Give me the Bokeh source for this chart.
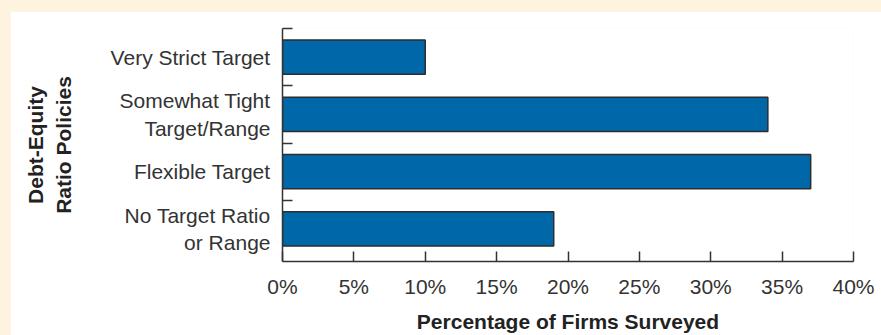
from bokeh.plotting import figure
from bokeh.models import Range1d, FixedTicker
from bokeh.embed import file_html
from bokeh.resources import INLINE

# ---- data ----
categories = ["Very Strict Target", "Somewhat Tight\nTarget/Range", "Flexible Target", "No Target Ratio\nor Range"]
percent_firms = [10, 34, 37, 19]
x_ticks = [0, 5, 10, 15, 20, 25, 30, 35, 40]
x_tick_labels = ["0%", "5%", "10%", "15%", "20%", "25%", "30%", "35%", "40%"]
x_title = "Percentage of Firms Surveyed"
y_title = "Debt-Equity\nRatio Policies"

n = len(categories)
y_pos = [n - i - 0.5 for i in range(n)]

FONT = "Liberation Sans"
TXT = "#333333"

p = figure(width=871, height=324, output_backend="svg", toolbar_location=None,
           x_range=Range1d(0, 40), y_range=Range1d(-0.069, n),
           min_border_left=272, min_border_right=28, min_border_top=17, min_border_bottom=71,
           border_fill_color="white", background_fill_color="white")
p.outline_line_color = None
p.xgrid.visible = False
p.ygrid.visible = False
p.styles = {"margin-left": "10px", "margin-top": "11px"}

p.hbar(y=y_pos, right=percent_firms, left=0, height=0.6,
       fill_color="#0067A8", line_color="#2d2d2d", line_width=1.5)

# x axis
xa = p.xaxis[0]
xa.ticker = FixedTicker(ticks=x_ticks)
xa.major_label_overrides = {t: l for t, l in zip(x_ticks, x_tick_labels)}
xa.major_tick_in = 10
xa.major_tick_out = 0
xa.minor_tick_in = 0
xa.minor_tick_out = 0
xa.axis_line_color = TXT
xa.axis_line_width = 1.5
xa.major_tick_line_color = TXT
xa.major_tick_line_width = 1.5
xa.major_label_text_font = FONT
xa.major_label_text_font_size = "21px"
xa.major_label_text_color = TXT
xa.major_label_standoff = 13
xa.axis_label = x_title
xa.axis_label_text_font = FONT
xa.axis_label_text_font_size = "21px"
xa.axis_label_text_font_style = "bold"
xa.axis_label_text_color = "#222222"
xa.axis_label_standoff = 9

# y axis
ya = p.yaxis[0]
ya.ticker = FixedTicker(ticks=y_pos, minor_ticks=[float(k) for k in range(1, n + 1)])
ya.major_label_overrides = {y: c for y, c in zip(y_pos, categories)}
ya.major_tick_in = 0
ya.major_tick_out = 0
ya.minor_tick_in = 10
ya.minor_tick_out = 0
ya.minor_tick_line_color = TXT
ya.minor_tick_line_width = 1.5
ya.axis_line_color = TXT
ya.axis_line_width = 1.5
ya.major_label_text_font = FONT
ya.major_label_text_font_size = "21px"
ya.major_label_text_color = TXT
ya.major_label_standoff = 12
ya.axis_label = y_title
ya.axis_label_text_font = FONT
ya.axis_label_text_font_size = "21px"
ya.axis_label_text_font_style = "bold"
ya.axis_label_text_color = "#222222"
ya.axis_label_standoff = 33

try:
    from bokeh.models import GlobalInlineStyleSheet
    p.stylesheets = [GlobalInlineStyleSheet(css="body { background-color: #FDF3DE; }")]
except Exception:
    pass

open("out.html", "w").write(file_html(p, INLINE))
